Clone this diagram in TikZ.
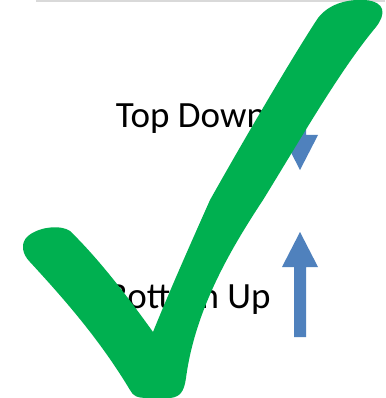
\documentclass[tikz,border=0pt]{standalone}
\usepackage{fontspec}
\setmainfont{Carlito}
\definecolor{checkgreen}{HTML}{00B050}
\definecolor{arrowblue}{HTML}{4F81BD}
\definecolor{rulegray}{HTML}{D9D9D9}
\begin{document}
\begin{tikzpicture}[x=1pt,y=-1pt,
  lbl/.style={inner sep=0pt,anchor=base,font=\fontsize{37}{40}\selectfont},
  blk/.style={fill=arrowblue}]
\useasboundingbox (0,0) rectangle (385,398);
\fill[white] (0,0) rectangle (385,398);
\fill[rulegray] (36,0) rectangle (385,1.8);
\node[lbl] (top) at (191,128) {Top Down};
\node[lbl] (bot) at (189,308) {Bottom Up};
% down arrow
\fill[blk] (294,65) -- (306,65) -- (306,135) -- (318,135) -- (300,170) -- (282,135) -- (294,135) -- cycle;
% up arrow
\fill[blk] (294,337) -- (306,337) -- (306,267) -- (318,267) -- (300,232) -- (282,267) -- (294,267) -- cycle;
% check mark
\fill[checkgreen] (153,332) .. controls (130,300) and (100,260) .. (70,231)
  .. controls (62,225) and (40,226) .. (28,236)
  .. controls (20,243) and (22,254) .. (30,262)
  .. controls (65,300) and (100,340) .. (130,390)
  .. controls (133,396) and (137,398) .. (148,398) -- (170,398)
  .. controls (180,397) and (184,392) .. (186,378)
  .. controls (195,310) and (230,250) .. (263,200)
  .. controls (300,140) and (340,70) .. (376,27)
  .. controls (386,14) and (386,2) .. (365,0)
  .. controls (345,-1) and (328,5) .. (318,18)
  .. controls (300,45) and (255,120) .. (210,200)
  .. controls (190,245) and (170,290) .. (153,332) -- cycle;
\end{tikzpicture}
\end{document}
